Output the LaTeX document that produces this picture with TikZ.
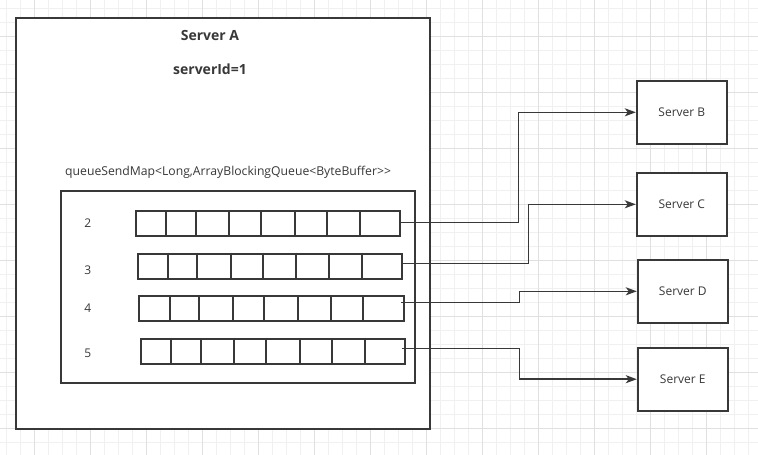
\documentclass[tikz,border=0pt]{standalone}
\usepackage{fontspec}
\setmainfont{Open Sans}
\usetikzlibrary{arrows.meta}
\definecolor{ink}{HTML}{383838}
\definecolor{gridminor}{HTML}{F0F0F0}
\definecolor{gridmajor}{HTML}{E0E0E0}
\begin{document}
\begin{tikzpicture}[x=1pt,y=-1pt,
  minorline/.style={draw=gridminor,line width=1pt},
  majorline/.style={draw=gridmajor,line width=1pt},
  box/.style={draw=ink,fill=white,line width=2pt,inner sep=0pt,anchor=north west},
  qbox/.style={draw=ink,fill=white,line width=1.8pt,inner sep=0pt,anchor=north west,minimum height=25pt},
  qline/.style={draw=ink,line width=1.8pt},
  srv/.style={draw=ink,fill=white,line width=2pt,inner sep=0pt,minimum width=90pt,minimum height=63pt,text=ink,font=\fontsize{12}{14}\selectfont},
  bigtitle/.style={text=ink,font=\bfseries\fontsize{14}{16}\selectfont,inner sep=0pt},
  lbl/.style={text=ink,font=\fontsize{12}{14}\selectfont,inner sep=0pt},
  conn/.style={draw=ink,line width=1.5pt,-{Stealth[length=11pt,width=8pt,inset=3pt]}}]
\useasboundingbox (0,0) rectangle (758,455);
\fill[white] (0,0) rectangle (758,455);
% grid
\foreach \i in {0,...,53} \draw[minorline] ({6.3+14*\i},0) -- ({6.3+14*\i},455);
\foreach \i in {0,...,32} \draw[minorline] (0,{8.3+14*\i}) -- (758,{8.3+14*\i});
\foreach \i in {0,...,13} \draw[majorline] ({34.3+56*\i},0) -- ({34.3+56*\i},455);
\foreach \i in {0,...,7} \draw[majorline] (0,{36.3+56*\i}) -- (758,{36.3+56*\i});
% Server A
\node[box,minimum width=414pt,minimum height=411pt] (A) at (15,17) {};
\node[bigtitle] (titleA) at (210,35) {Server A};
\node[bigtitle] (sid) at (210,69) {serverId=1};
\node[lbl,anchor=west,font=\fontsize{12.2}{14}\selectfont] (mapname) at (65,172.5) {queueSendMap<Long,ArrayBlockingQueue<ByteBuffer>{}>};
% map box
\node[box,minimum width=354pt,minimum height=192pt] (map) at (60,190) {};
% queues
\node[qbox,minimum width=264pt] (q2) at (135,210) {};
\foreach \x in {166,196,229,261,295,327,360} \draw[qline] (\x,210) -- (\x,235);
\node[qbox,minimum width=264.6pt] (q3) at (136.7,252.7) {};
\foreach \x in {167.7,196.7,231,262.7,296,328.7,362} \draw[qline] (\x,252.7) -- (\x,277.7);
\node[qbox,minimum width=265.3pt] (q4) at (137.7,295) {};
\foreach \x in {169.7,199,233,264,297.7,331,363} \draw[qline] (\x,295) -- (\x,320);
\node[qbox,minimum width=264pt] (q5) at (140,337.7) {};
\foreach \x in {170.7,201,234,266,299.7,332,365} \draw[qline] (\x,337.7) -- (\x,362.7);
\node[lbl] (n2) at (87.7,223.3) {2};
\node[lbl] (n3) at (87.7,270.7) {3};
\node[lbl] (n4) at (87.7,307.7) {4};
\node[lbl] (n5) at (87.7,353.3) {5};
% servers
\node[srv] (B) at (681.8,112.3) {Server B};
\node[srv] (C) at (681.8,204.3) {Server C};
\node[srv] (D) at (682.8,291.3) {Server D};
\node[srv] (E) at (682.8,379.2) {Server E};
% start points
\coordinate (s2) at (400,222.3);
\coordinate (s3) at (401,263.3);
\coordinate (s4) at (401,302.7);
\coordinate (s5) at (402.3,348.3);
\draw[conn] (s2) -- ++(118.3,0) |- (B.west);
\draw[conn] (s3) -- ++(127.7,0) |- (C.west);
\draw[conn] (s4) -- ++(118.7,0) |- (D.west);
\draw[conn] (s5) -- ++(117.4,0) |- (E.west);
\end{tikzpicture}
\end{document}
